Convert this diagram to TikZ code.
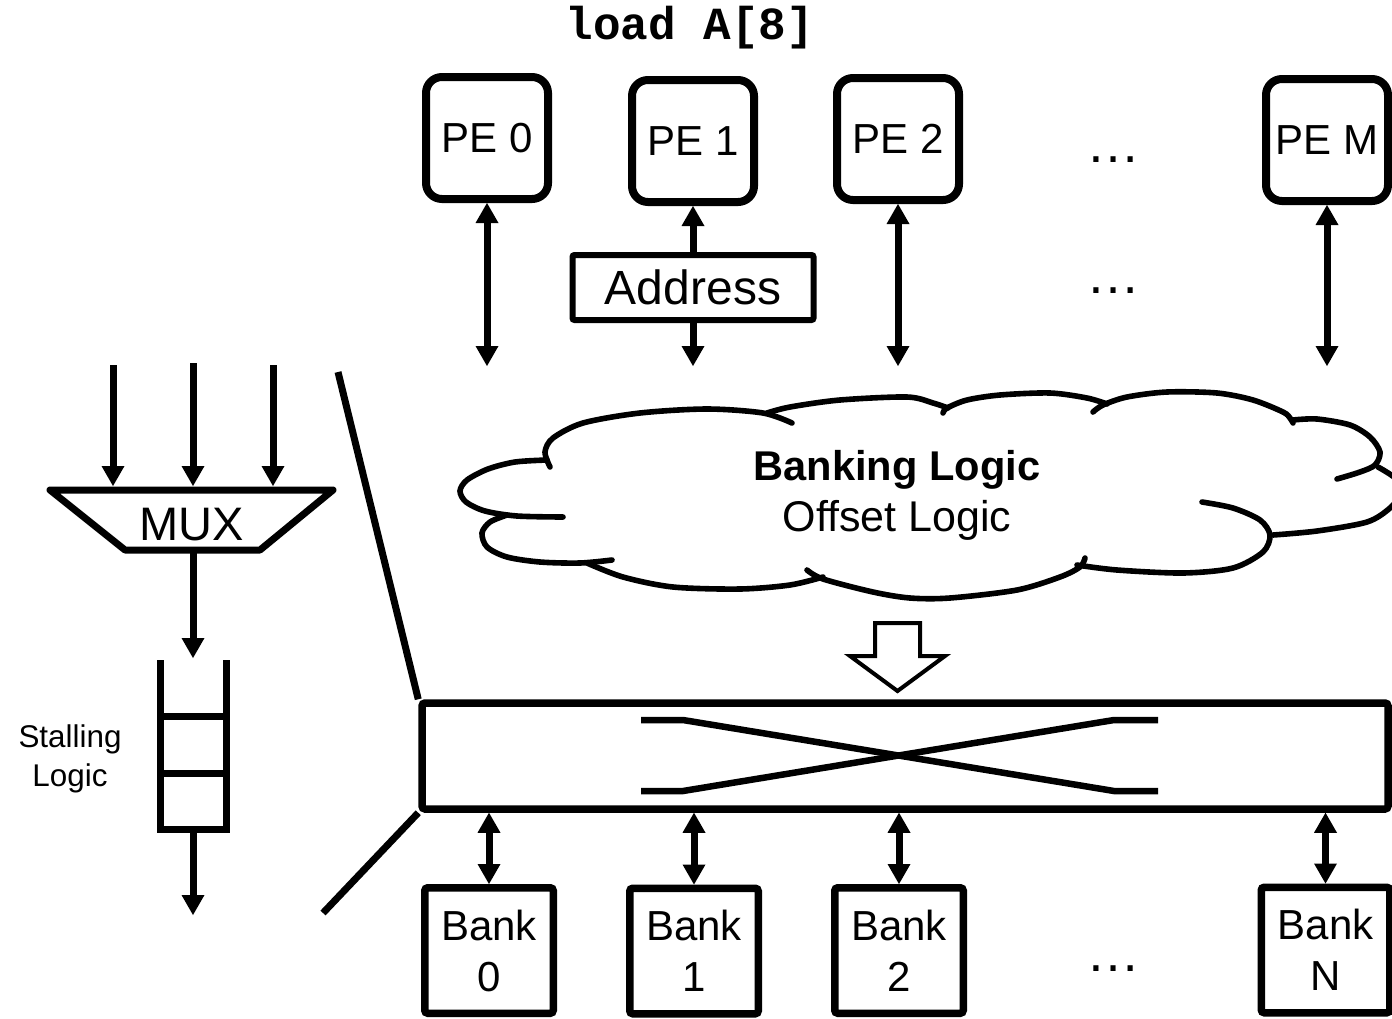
\documentclass[tikz,border=0pt]{standalone}
\usepackage{fontspec}
\setmainfont{Liberation Sans}
\setmonofont{Liberation Mono}
\usetikzlibrary{arrows.meta}
\begin{document}
\begin{tikzpicture}[x=0.5pt,y=-0.5pt,
  >={Triangle[width=11.5pt,length=10pt,line width=0pt]},
  pebox/.style={draw, line width=4pt, rounded corners=8pt, minimum width=61pt,
    minimum height=61pt, inner sep=0pt, font=\fontsize{21pt}{25pt}\selectfont},
  bankbox/.style={draw, line width=3.75pt, rounded corners=1.5pt, minimum width=64.25pt,
    minimum height=62.75pt, inner sep=0pt, align=center,
    font=\fontsize{21pt}{25.5pt}\selectfont},
  addrbox/.style={draw, line width=3pt, rounded corners=1pt, minimum width=120.5pt,
    minimum height=32.5pt, inner sep=0pt, font=\fontsize{24pt}{28pt}\selectfont},
  wire/.style={line width=3.5pt},
  bus/.style={wire, <->},
  cloudline/.style={line width=2.8pt, line cap=round},
  dotsnode/.style={font=\fontsize{27pt}{30pt}\selectfont, inner sep=0pt, anchor=base},
]
\useasboundingbox (0,0) rectangle (1392,1018);
\clip (0,0) rectangle (1392,1018);

% instruction
\node[font=\ttfamily\bfseries\fontsize{23pt}{27pt}\selectfont, anchor=base, inner sep=0pt]
  (instr) at (690,39) {load A[8]};

% processing elements
\node[pebox] (pe0) at (487,138) {PE 0};
\node[pebox] (pe1) at (693,141) {PE 1};
\node[pebox] (pe2) at (898,139) {PE 2};
\node[pebox] (pem) at (1327,140) {PE M};
\node[dotsnode] (pedots) at (1113,162) {…};

\node[addrbox] (addr) at (693,287.5) {Address};
\node[dotsnode] (adots) at (1113,293) {…};

\coordinate (netin) at (0,366);
\draw[bus] (pe0.south) -- (pe0.south |- netin);
\draw[wire,->] (addr.north) -- (pe1.south);
\draw[wire,->] (addr.south) -- (addr.south |- netin);
\draw[bus] (pe2.south) -- (pe2.south |- netin);
\draw[bus] (pem.south) -- (pem.south |- netin);

% banking / offset logic cloud
\draw[cloudline] plot[smooth] coordinates {(792,423) (763,413) (707,409) (640,413) (583,423) (553,438) (545,452) (550,467)};
\draw[cloudline] plot[smooth] coordinates {(547,460) (515,462) (488,469) (467,480) (460,491) (466,502) (485,511) (517,516) (563,517)};
\draw[cloudline] plot[smooth] coordinates {(507,515) (490,522) (482,533) (487,547) (507,557) (540,562) (580,563) (612,560)};
\draw[cloudline] plot[smooth] coordinates {(587,563) (623,577) (673,587) (740,589) (790,585) (823,577)};
\draw[cloudline] plot[smooth] coordinates {(807,570) (823,579) (873,592) (910,598) (950,598) (1017,590) (1060,577) (1080,567) (1085,558)};
\draw[cloudline] plot[smooth] coordinates {(1077,565) (1117,570) (1183,573) (1233,568) (1263,552) (1270,535) (1260,520) (1233,508) (1202,502)};
\draw[cloudline] plot[smooth] coordinates {(1273,535) (1317,531) (1367,522) (1390,508) (1402,492) (1395,478) (1378,467)};
\draw[cloudline] plot[smooth] coordinates {(1293,420) (1317,419) (1350,425) (1370,437) (1380,452) (1375,465) (1360,472) (1337,479)};
\draw[cloudline] plot[smooth] coordinates {(1293,423) (1290,418) (1283,412) (1253,400) (1217,393) (1167,392) (1127,397) (1103,405) (1093,412)};
\draw[cloudline] plot[smooth] coordinates {(1107,404) (1087,398) (1050,393) (1000,395) (967,400) (947,408) (943,413)};
\draw[cloudline] plot[smooth] coordinates {(948,408) (933,403) (907,397) (840,400) (790,407) (767,413)};

\node[font=\bfseries\fontsize{20.8pt}{24pt}\selectfont, anchor=base, inner sep=0pt]
  (banking) at (897,480) {Banking Logic};
\node[font=\fontsize{21.5pt}{24pt}\selectfont, anchor=base, inner sep=0pt]
  (offset) at (897,531) {Offset Logic};

% hollow arrow into the crossbar
\draw[line width=2pt, line join=miter, fill=white]
  (875,623) -- (920,623) -- (920,656) -- (945,656) -- (897.5,691) -- (850,656) -- (875,656) -- cycle;

% crossbar
\node[draw, line width=3.75pt, rounded corners=1.5pt, minimum width=483pt,
  minimum height=53pt, inner sep=0pt] (xbar) at (905,756) {};
\draw[line width=3.25pt, line join=miter] (641,720) -- (683,720) -- (1114,791) -- (1158,791);
\draw[line width=3.25pt, line join=miter] (641,791) -- (683,791) -- (1114,720) -- (1158,720);

% memory banks
\node[bankbox] (bank0) at (489,950.5) {Bank\\0};
\node[bankbox] (bank1) at (694,951) {Bank\\1};
\node[bankbox] (bank2) at (899,950.5) {Bank\\2};
\node[bankbox] (bankn) at (1325.5,950) {Bank\\N};
\node[dotsnode] (bdots) at (1113,971) {…};

\draw[bus] (xbar.south -| bank0.north) -- (bank0.north);
\draw[bus] (xbar.south -| bank1.north) -- (bank1.north);
\draw[bus] (xbar.south -| bank2.north) -- (bank2.north);
\draw[bus] (xbar.south -| bankn.north) -- (bankn.north);

% detail: mux and stalling queue
\coordinate (zoomtop) at (338,372);
\coordinate (zoombot) at (323,913);
\draw[wire] (zoomtop) -- (xbar.north west);
\draw[wire] (xbar.south west) -- (zoombot);

\draw[wire, line join=round] (50,490) -- (333,490) -- (260,550) -- (125,550) -- cycle;
\node[font=\fontsize{23.5pt}{27pt}\selectfont, inner sep=0pt] (mux) at (192,524.5) {MUX};

\coordinate (src1) at (113,365);
\coordinate (src2) at (193,363);
\coordinate (src3) at (273,365);
\coordinate (muxin1) at (113,486);
\coordinate (muxin2) at (193,486);
\coordinate (muxin3) at (273,486);
\coordinate (muxout) at (193,550);
\draw[wire,->] (src1) -- (muxin1);
\draw[wire,->] (src2) -- (muxin2);
\draw[wire,->] (src3) -- (muxin3);

\coordinate (fifotop) at (193,658);
\coordinate (fifobot) at (193,829);
\coordinate (fifoout) at (193,915);
\draw[wire,->] (muxout) -- (fifotop);
\draw[wire] (160,660) -- (160,829) -- (226,829) -- (226,660);
\draw[wire] (160,716) -- (226,716);
\draw[wire] (160,773) -- (226,773);
\draw[wire,->] (fifobot) -- (fifoout);

\node[align=center, font=\fontsize{15.7pt}{19.5pt}\selectfont, inner sep=0pt]
  (stall) at (70,759) {Stalling\\Logic};
\end{tikzpicture}
\end{document}
